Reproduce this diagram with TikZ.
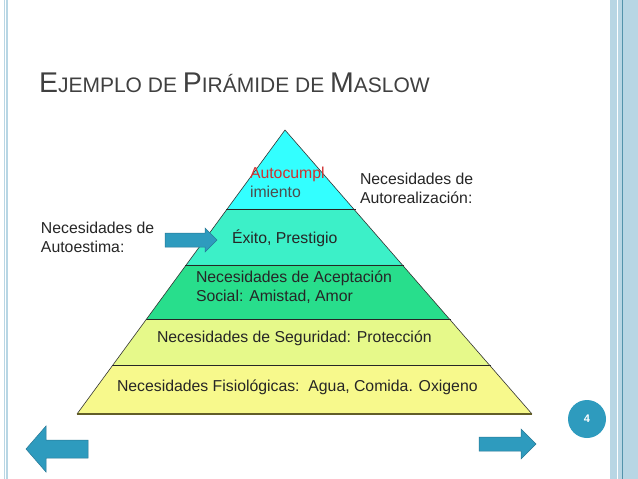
\documentclass[tikz,border=0pt]{standalone}
\usepackage{fontspec}
\setmainfont{Liberation Sans}
\usetikzlibrary{calc}
\definecolor{layercyan}{RGB}{51,255,255}
\definecolor{layerteal}{RGB}{60,240,200}
\definecolor{layergreen}{RGB}{40,222,140}
\definecolor{layerlime}{RGB}{230,249,138}
\definecolor{layeryellow}{RGB}{247,249,140}
\definecolor{slideblue}{RGB}{46,155,190}
\definecolor{darkblue}{RGB}{40,120,150}
\definecolor{frameblue}{RGB}{184,214,228}
\definecolor{titlegray}{RGB}{64,64,64}
\definecolor{autored}{RGB}{208,48,48}

\newcommand{\capword}[2]{{\fontsize{28.5}{32}\selectfont #1}{\fontsize{21}{24}\selectfont #2}}

\begin{document}
\begin{tikzpicture}[x=1pt, y=-1pt,
    every node/.style={inner sep=0pt, outer sep=0pt},
    label/.style={anchor=west, align=left, font=\fontsize{15.8}{19}\selectfont, text=black!85},
    blockarrow/.style={fill=slideblue, draw=darkblue, line width=0.5pt},
    pagenum/.style={circle, fill=slideblue, minimum size=38pt, text=white, font=\fontsize{11}{13}\selectfont\bfseries}
]
\useasboundingbox (0,0) rectangle (638,479);
\fill[white] (0,0) rectangle (638,479);

% Slide frame
\draw[frameblue, line width=1.6pt] (4.3,0) -- (4.3,479);
\draw[frameblue, line width=1.2pt] (7,0) -- (7,479);
\fill[frameblue] (610,0) rectangle (638,479);
\draw[white, line width=0.8pt] (617,0) -- (617,479);
\draw[darkblue!80, line width=0.8pt] (622,0) -- (622,479);

% Title
\node[anchor=base west, text=titlegray] (title) at (39,92) {\capword{E}{JEMPLO DE }\capword{P}{IRÁMIDE DE }\capword{M}{ASLOW}};

% Pyramid
\coordinate (apex) at (285,130);
\coordinate (bl) at (77,414);
\coordinate (br) at (532,414);
\foreach \ta/\tb/\col in {0/0.278/layercyan, 0.278/0.475/layerteal, 0.475/0.6655/layergreen, 0.6655/0.8275/layerlime, 0.8275/1/layeryellow}
  \fill[\col] ($(apex)!\ta!(bl)$) -- ($(apex)!\tb!(bl)$) -- ($(apex)!\tb!(br)$) -- ($(apex)!\ta!(br)$) -- cycle;
\foreach \t in {0.278,0.475,0.6655,0.8275}
  \draw[black!85, line width=0.8pt, shorten <=-1pt, shorten >=-2pt] ($(apex)!\t!(bl)$) -- ($(apex)!\t!(br)$);
\draw[black!80, line width=0.6pt] (bl) -- (apex) -- (br);
\draw[olive!60!black, line width=1.5pt] (bl) -- (br);

% Texts
\node[label] (autocumpl) at (250,182) {{\color{autored}Autocumpl}\\\textcolor{black!70}{imiento}};
\node[label] (autorealiz) at (360,188) {Necesidades de\\Autorealización:};
\node[label] (exito) at (232,238) {Éxito, Prestigio};
\node[label] (autoestima) at (41,237) {Necesidades de\\Autoestima:};
\node[label] (aceptacion) at (196,287) {Necesidades de Aceptación\\Social: Amistad, Amor};
\node[label] (seguridad) at (157,338) {Necesidades de Seguridad: Protección};
\node[label] (fisiologicas) at (117,387) {Necesidades Fisiológicas:\ \ Agua, Comida. Oxigeno};

% Block arrows
\draw[blockarrow] (165,233) -- (205,233) -- (205,228) -- (217,240) -- (205,252) -- (205,247) -- (165,247) -- cycle;
\draw[blockarrow] (88,440) -- (46,440) -- (46,426) -- (26,449) -- (46,472) -- (46,458) -- (88,458) -- cycle;
\draw[blockarrow] (479,437) -- (521,437) -- (521,429) -- (536,444) -- (521,459) -- (521,451) -- (479,451) -- cycle;

% Page number
\node[pagenum] (pnum) at (587,419) {4};
\end{tikzpicture}
\end{document}
